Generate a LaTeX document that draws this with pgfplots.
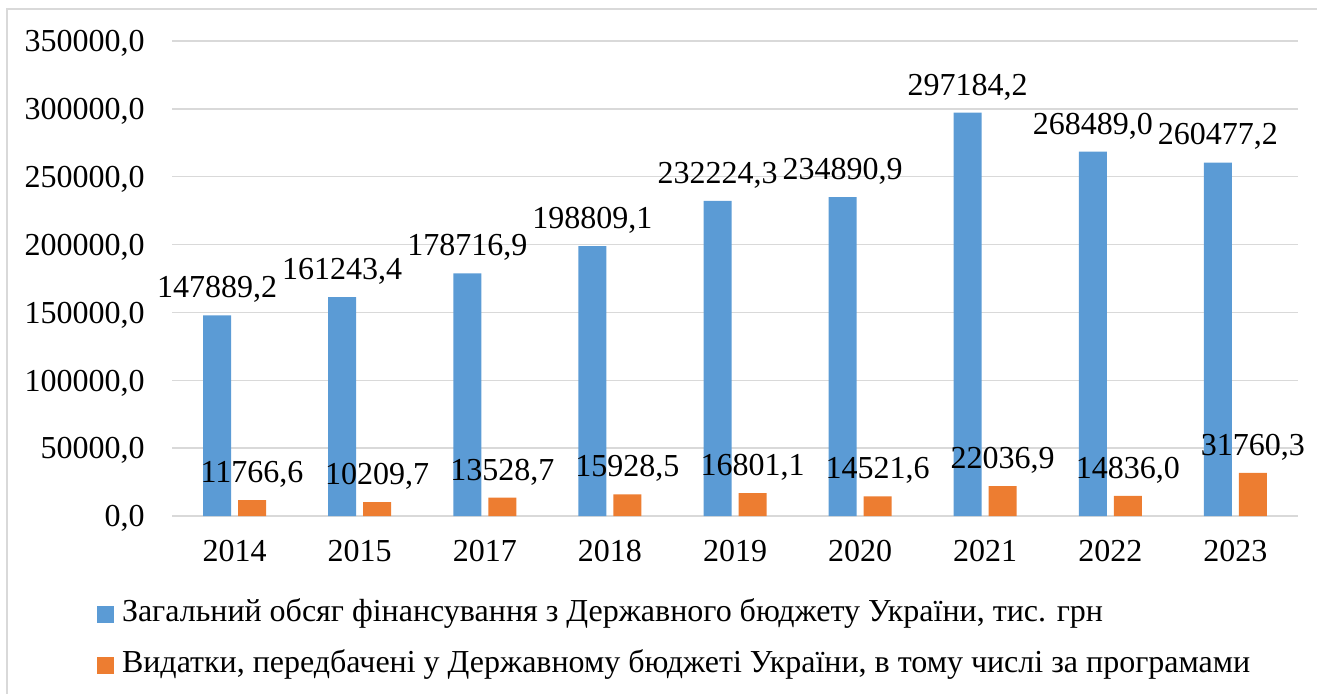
\documentclass[border=0pt]{standalone}
\usepackage{fontspec}
\setmainfont{Liberation Serif}
\usepackage{pgfplots}
\usepackage{pgfplotstable}
\pgfplotsset{compat=1.18}
\definecolor{cblue}{HTML}{5B9BD5}
\definecolor{corange}{HTML}{ED7D31}
\definecolor{cgrid}{HTML}{D9D9D9}
\pgfplotstableread{
x y lab
0 147889.2 147889,2
1 161243.4 161243,4
2 178716.9 178716,9
3 198809.1 198809,1
4 232224.3 232224,3
5 234890.9 234890,9
6 297184.2 297184,2
7 268489.0 268489,0
8 260477.2 260477,2
}\totaltab
\pgfplotstableread{
x y lab
0 11766.6 11766,6
1 10209.7 10209,7
2 13528.7 13528,7
3 15928.5 15928,5
4 16801.1 16801,1
5 14521.6 14521,6
6 22036.9 22036,9
7 14836.0 14836,0
8 31760.3 31760,3
}\progtab
\begin{document}
\begin{tikzpicture}[font=\fontsize{16bp}{19bp}\selectfont]
\useasboundingbox (0,0) rectangle (658.5bp,-347bp);
\draw[cgrid, line width=0.75bp] (3.5bp,-347bp) -- (3.5bp,-4.5bp) -- (658.5bp,-4.5bp);
\begin{axis}[
  at={(86bp,-258bp)}, anchor=south west,
  width=563bp, height=237.5bp, scale only axis,
  xmin=-0.5, xmax=8.5, ymin=0, ymax=350000,
  ybar=3.5bp, bar width=14bp,
  xtick={0,...,8},
  xticklabels={2014,2015,2017,2018,2019,2020,2021,2022,2023},
  ytick={0,50000,...,350000},
  yticklabel={\pgfmathprintnumber[fixed,fixed zerofill,precision=1,use comma,1000 sep={}]{\tick}},
  /pgf/number format/assume math mode=true,
  scaled y ticks=false,
  ymajorgrids, grid style={cgrid, line width=0.75bp},
  axis line style={draw=none},
  major tick length=0pt,
  xticklabel style={inner sep=0pt, anchor=north, yshift=-12bp},
  yticklabel style={inner sep=0pt, anchor=base east, xshift=-13.5bp, yshift=-5.4bp},
  clip=false,
  point meta=explicit symbolic,
  nodes near coords,
  nodes near coords style={inner sep=0pt, anchor=base, yshift=8.8bp, text=black},
  legend image code/.code={\fill[#1,draw=none] (0bp,-4.25bp) rectangle (8.5bp,4.25bp);},
  legend cell align=left,
  legend style={draw=none, fill=none, inner sep=0pt, outer sep=0pt,
    at={(axis description cs:-0.0666,-0.26)}, anchor=west,
    row sep=11bp, column sep=4bp,
    nodes={inner sep=0pt, text height=11bp, text depth=3.5bp},
    font=\fontsize{16bp}{19bp}\selectfont},
]
\addplot[fill=cblue, draw=none] table[x=x, y=y, meta=lab] {\totaltab};
\addplot[fill=corange, draw=none] table[x=x, y=y, meta=lab] {\progtab};
\legend{{Загальний обсяг фінансування з Державного бюджету України, тис. грн},
        {Видатки, передбачені у Державному бюджеті України, в тому числі за програмами}}
\end{axis}
\end{tikzpicture}
\end{document}
